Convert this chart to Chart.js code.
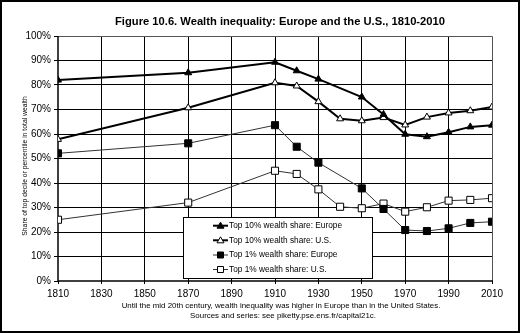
<!DOCTYPE html>
<html>
<head>
<meta charset="utf-8">
<script src="https://cdn.jsdelivr.net/npm/chart.js@4"></script>
<style>
  body { margin: 0; background: #fff; }
  #wrap { width: 520px; height: 333px; }
</style>
</head>
<body>
<div id="wrap"><canvas id="chart" width="520" height="333"></canvas></div>
<script>
// ====== DATA ======
const yearsEurope = [1810, 1870, 1910, 1920, 1930, 1950, 1960, 1970, 1980, 1990, 2000, 2010];
const yearsUS = [1810, 1870, 1910, 1920, 1930, 1940, 1950, 1960, 1970, 1980, 1990, 2000, 2010];

const top10Europe = [82.0, 85.0, 89.3, 85.8, 82.4, 75.1, 68.0, 59.9, 58.9, 60.7, 62.9, 63.6];
const top10US = [57.8, 70.7, 80.9, 79.6, 73.2, 66.2, 65.4, 66.7, 63.7, 66.9, 68.6, 69.5, 71.0];
const top1Europe = [52.1, 56.2, 63.6, 54.8, 48.3, 37.8, 29.4, 20.8, 20.4, 21.5, 23.7, 24.2];
const top1US = [25.0, 32.0, 45.0, 43.7, 37.4, 30.3, 29.7, 31.6, 28.3, 30.1, 32.8, 33.1, 33.8];

const seriesLabels = [
  "Top 10% wealth share: Europe",
  "Top 10% wealth share: U.S.",
  "Top 1% wealth share: Europe",
  "Top 1% wealth share: U.S.",
];

const titleText = "Figure 10.6. Wealth inequality: Europe and the U.S., 1810-2010";
const yTitle = "Share of top decile or percentile in total wealth";
const notes = [
  "Until the mid 20th century, wealth inequality was higher in Europe than in the United States.",
  "Sources and series: see piketty.pse.ens.fr/capital21c.",
];

const pts = (xs, ys) => xs.map((x, i) => ({ x, y: ys[i] }));

// ====== DECORATION (title, frame, legend, notes) ======
const decor = {
  id: "decor",
  beforeDatasetsDraw(chart) {
    const { ctx, chartArea: a } = chart;
    ctx.save();
    ctx.strokeStyle = "#555";
    ctx.lineWidth = 1;
    ctx.beginPath();
    ctx.moveTo(a.left, a.top + 0.5);
    ctx.lineTo(a.right + 0.5, a.top + 0.5);
    ctx.lineTo(a.right + 0.5, a.bottom);
    ctx.stroke();
    ctx.strokeStyle = "#000";
    ctx.lineWidth = 1.5;
    ctx.beginPath();
    ctx.moveTo(a.left, a.top);
    ctx.lineTo(a.left, a.bottom);
    ctx.lineTo(a.right + 1, a.bottom);
    ctx.stroke();
    ctx.restore();
  },
  afterDraw(chart) {
    const { ctx } = chart;
    ctx.save();
    // outer frame
    ctx.strokeStyle = "#000";
    ctx.lineWidth = 2;
    ctx.strokeRect(1, 1, 518, 331);

    ctx.fillStyle = "#000";
    ctx.textAlign = "center";
    ctx.textBaseline = "middle";
    ctx.font = "bold 11.2px Arial, 'Liberation Sans'";
    ctx.fillText(titleText, 280, 22);

    ctx.font = "7.9px Arial, 'Liberation Sans'";
    ctx.fillText(notes[0], 281, 306);
    ctx.fillText(notes[1], 283, 316);

    ctx.save();
    ctx.translate(25, 166);
    ctx.rotate(-Math.PI / 2);
    ctx.font = "6.8px Arial, 'Liberation Sans'";
    ctx.fillText(yTitle, 0, 0);
    ctx.restore();

    // legend
    const lx = 183, ly = 217, lw = 189, lh = 61;
    ctx.fillStyle = "#fff";
    ctx.fillRect(lx, ly, lw, lh);
    ctx.strokeStyle = "#000";
    ctx.lineWidth = 1;
    ctx.strokeRect(lx + 0.5, ly + 0.5, lw, lh);
    const rows = [225.7, 240.3, 255, 269.5];
    chart.data.datasets.forEach((ds, i) => {
      const y = rows[i];
      ctx.strokeStyle = ds.borderColor;
      ctx.lineWidth = ds.borderWidth;
      ctx.beginPath();
      ctx.moveTo(213, y);
      ctx.lineTo(228, y);
      ctx.stroke();
      ctx.fillStyle = ds.pointBackgroundColor;
      ctx.strokeStyle = "#000";
      ctx.lineWidth = 1;
      ctx.beginPath();
      if (ds.pointStyle === "triangle") {
        ctx.moveTo(220.5, y - 3.5);
        ctx.lineTo(224, y + 2.5);
        ctx.lineTo(217, y + 2.5);
        ctx.closePath();
      } else {
        ctx.rect(217.5, y - 3, 6, 6);
      }
      ctx.fill();
      ctx.stroke();
      ctx.fillStyle = "#000";
      ctx.textAlign = "left";
      ctx.font = "8.3px Arial, 'Liberation Sans'";
      ctx.fillText(ds.label, 229, y);
    });
    ctx.restore();
  },
};

// ====== CHART ======
const ctx = document.getElementById("chart").getContext("2d");
new Chart(ctx, {
  type: "line",
  data: {
    datasets: [
      {
        label: seriesLabels[0],
        data: pts(yearsEurope, top10Europe),
        borderColor: "#000",
        borderWidth: 2,
        pointStyle: "triangle",
        pointRadius: 4,
        pointBackgroundColor: "#000",
        pointBorderColor: "#000",
        pointBorderWidth: 1,
      },
      {
        label: seriesLabels[1],
        data: pts(yearsUS, top10US),
        borderColor: "#000",
        borderWidth: 2,
        pointStyle: "triangle",
        pointRadius: 4,
        pointBackgroundColor: "#fff",
        pointBorderColor: "#000",
        pointBorderWidth: 1,
      },
      {
        label: seriesLabels[2],
        data: pts(yearsEurope, top1Europe),
        borderColor: "#333",
        borderWidth: 1,
        pointStyle: "rect",
        pointRadius: 5,
        pointBackgroundColor: "#000",
        pointBorderColor: "#000",
        pointBorderWidth: 1,
      },
      {
        label: seriesLabels[3],
        data: pts(yearsUS, top1US),
        borderColor: "#333",
        borderWidth: 1,
        pointStyle: "rect",
        pointRadius: 5,
        pointBackgroundColor: "#fff",
        pointBorderColor: "#000",
        pointBorderWidth: 1,
      },
    ],
  },
  options: {
    responsive: false,
    animation: false,
    layout: { padding: { left: 2, right: 28, top: 36, bottom: 2 } },
    plugins: {
      legend: { display: false },
      title: { display: false },
      tooltip: { enabled: false },
    },
    scales: {
      x: {
        type: "linear",
        min: 1810,
        max: 2010,
        afterFit: (s) => { s.height = 50; },
        ticks: {
          stepSize: 20,
          callback: (v) => String(v),
          color: "#000",
          font: { family: "Arial, 'Liberation Sans'", size: 10 },
          padding: 4,
          maxRotation: 0,
        },
        border: { display: false },
        grid: {
          color: (c) => (c.tick && (c.tick.value === 1810 || c.tick.value === 2010) ? "rgba(0,0,0,0)" : "#000"),
          borderDash: [2, 1],
          lineWidth: 1,
          drawTicks: true,
          tickLength: 3,
          tickColor: "#000",
          tickBorderDash: [],
        },
      },
      y: {
        min: 0,
        max: 100,
        afterFit: (s) => { s.width = 56; },
        ticks: {
          stepSize: 10,
          callback: (v) => v + "%",
          color: "#000",
          font: { family: "Arial, 'Liberation Sans'", size: 10 },
          padding: 3,
        },
        border: { display: false },
        grid: {
          color: (c) => (c.tick && (c.tick.value === 0 || c.tick.value === 100) ? "rgba(0,0,0,0)" : "#000"),
          borderDash: [2, 1],
          lineWidth: 1,
          drawTicks: true,
          tickLength: 4,
          tickColor: "#000",
          tickBorderDash: [],
        },
      },
    },
  },
  plugins: [decor],
});
</script>
</body>
</html>
